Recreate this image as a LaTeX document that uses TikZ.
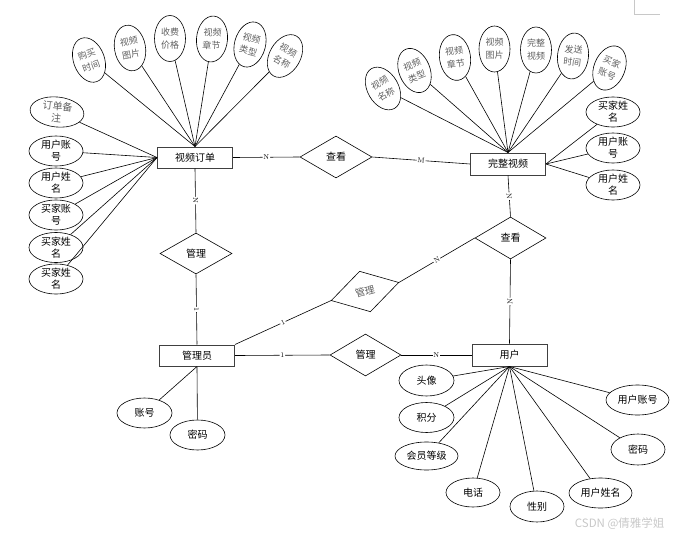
\documentclass[tikz,border=0pt]{standalone}
\usepackage{fontspec}
\usepackage{xcolor}
\usetikzlibrary{shapes.geometric}
\newfontfamily\cjk{Noto Sans CJK SC}

\begin{document}
\begin{tikzpicture}[x=1pt, y=-1pt]

\definecolor{boxline}{RGB}{64, 64, 64}
\definecolor{softgray}{RGB}{95, 95, 95}
\definecolor{markgray}{RGB}{200, 200, 200}

% Page size
\useasboundingbox (0,0) rectangle (675,538);

\tikzset{
    entity/.style={
        draw=boxline, line width=1pt,
        minimum width=75pt, minimum height=21pt, inner sep=0pt,
        font=\cjk\fontsize{10}{12}\selectfont
    },
    relation/.style={
        diamond, draw, line width=0.6pt,
        minimum width=72pt, minimum height=42pt, inner sep=0pt,
        font=\cjk\fontsize{10}{12}\selectfont
    },
    attr/.style={
        ellipse, draw, line width=0.6pt,
        minimum width=54pt, minimum height=30pt, inner sep=0pt,
        align=center, font=\cjk\fontsize{10}{12}\selectfont
    },
    wideattr/.style={attr, minimum width=63pt},
    tallattr/.style={
        attr, minimum width=31pt, minimum height=46pt,
        text=softgray, font=\cjk\fontsize{9}{13}\selectfont
    },
    link/.style={draw, line width=0.6pt},
    card/.style={
        midway, sloped, fill=white, inner sep=0.8pt,
        font=\fontsize{7}{8}\selectfont
    }
}

% Entities
\node[entity] (order) at (195,157.5) {视频订单};
\node[entity, minimum height=22pt] (video) at (508,164) {完整视频};
\node[entity] (admin) at (197,355.5) {管理员};
\node[entity, minimum height=22pt] (user) at (509.5,355) {用户};

% Relationships
\node[relation] (viewA) at (336,157) {查看};
\node[relation, minimum height=41pt] (manageA) at (196,253.5) {管理};
\node[relation, rotate=15, minimum width=70pt, text=softgray] (manageB) at (365,291.5) {管理};
\node[relation, minimum width=71pt] (manageC) at (365.5,355) {管理};
\node[relation, minimum width=71pt] (viewB) at (510.5,238) {查看};

% Connections with cardinality
\draw[link] (order.east) -- (viewA.west) node[card] {N};
\draw[link] (viewA.east) -- (video.west) node[card] {M};
\draw[link] (order.south) -- (manageA.north) node[card] {N};
\draw[link] (manageA.south) -- (admin.north) node[card] {1};
\draw[link] (admin.north east) -- (manageB.west) node[card] {1};
\draw[link] (manageB.east) -- (viewB.west) node[card] {N};
\draw[link] (video.south) -- (viewB.north) node[card] {N};
\draw[link] (viewB.south) -- (user.north) node[card] {N};
\draw[link] (admin.east) -- (manageC.west) node[card] {1};
\draw[link] (manageC.east) -- (user.west) node[card] {N};

% Video order attributes (top)
\node[tallattr, rotate=20] (oBuy) at (89,60) {购买\\时间};
\node[tallattr, rotate=10] (oPic) at (130,48) {视频\\图片};
\node[tallattr] (oPrice) at (170,38.5) {收费\\价格};
\node[tallattr, rotate=-5] (oChap) at (212,39) {视频\\章节};
\node[tallattr, rotate=-15] (oType) at (250,44.5) {视频\\类型};
\node[tallattr, rotate=-30] (oName) at (285,56) {视频\\名称};
\foreach \a in {oBuy, oPic, oPrice, oChap, oType, oName}
    \draw[link] (\a) -- (order.north);

% Video order attributes (left)
\node[attr, rotate=-6, text=softgray] (oNote) at (57,112) {订单备\\注};
\node[attr] (oUacc) at (56,151) {用户账\\号};
\node[attr] (oUname) at (56,183) {用户姓\\名};
\node[attr] (oBacc) at (56,215) {买家账\\号};
\node[attr] (oBname) at (56,247.5) {买家姓\\名};
\node[attr] (oBname2) at (56,279) {买家姓\\名};
\foreach \a in {oNote, oUacc, oUname, oBacc, oBname, oBname2}
    \draw[link] (\a) -- (order.west);

% Full video attributes (top)
\node[tallattr, rotate=30] (vName) at (383,88.5) {视频\\名称};
\node[tallattr, rotate=22] (vType) at (414.5,70.5) {视频\\类型};
\node[tallattr, rotate=8] (vChap) at (455,57.5) {视频\\章节};
\node[tallattr] (vPic) at (494.5,49) {视频\\图片};
\node[tallattr] (vFull) at (536,50) {完整\\视频};
\node[tallattr, rotate=-6] (vSend) at (573,56) {发送\\时间};
\node[tallattr, rotate=-22] (vBacc) at (609.5,68) {买家\\账号};
\foreach \a in {vName, vType, vChap, vPic, vFull, vSend, vBacc}
    \draw[link] (\a) -- (video.north);

% Full video attributes (right)
\node[attr] (vBname) at (613,112) {买家姓\\名};
\node[attr] (vUacc) at (613,148) {用户账\\号};
\node[attr] (vUname) at (613,185) {用户姓\\名};
\foreach \a in {vBname, vUacc, vUname}
    \draw[link] (\a) -- (video.east);

% Admin attributes
\node[attr, minimum width=55pt] (aAcc) at (144.5,413) {账号};
\node[attr, minimum width=55pt] (aPwd) at (197.5,435) {密码};
\draw[link] (aAcc) -- (admin.south);
\draw[link] (aPwd) -- (admin.south);

% User attributes
\node[attr, minimum width=55pt, minimum height=31pt] (uHead) at (426.5,380.5) {头像};
\node[attr, minimum width=55pt] (uScore) at (426.5,417.5) {积分};
\node[wideattr, minimum height=28pt] (uLevel) at (426.5,456) {会员等级};
\node[attr, minimum height=29pt] (uTel) at (473,492.5) {电话};
\node[attr, minimum height=31pt] (uSex) at (537,506.5) {性别};
\node[wideattr] (uName) at (600.5,493) {用户姓名};
\node[attr, minimum height=31pt] (uPwd) at (638,449.5) {密码};
\node[wideattr] (uAcc) at (637.5,400) {用户账号};
\foreach \a in {uHead, uScore, uLevel, uTel, uSex, uName, uPwd, uAcc}
    \draw[link] (\a) -- (user.south);

% Page corner mark and watermark
\draw[markgray, line width=0.5pt] (634,0) -- (634,14) -- (660,14);
\node[text=markgray, font=\cjk\fontsize{11.5}{13}\selectfont, anchor=east] (mark) at (668,524) {CSDN @倩雅学姐};

\end{tikzpicture}
\end{document}
